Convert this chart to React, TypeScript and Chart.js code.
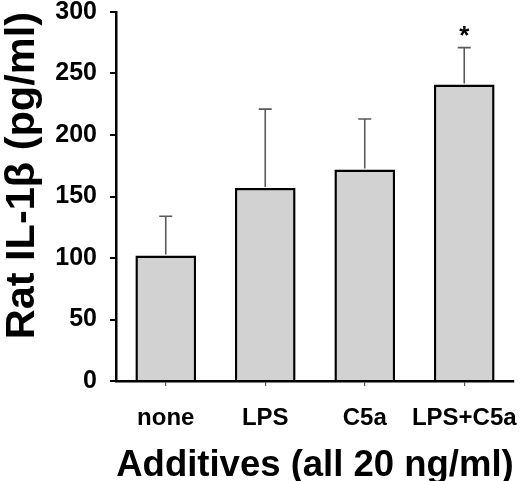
import React, { useRef, useEffect } from "react";
import Chart from "chart.js/auto";

const categories = ["none", "LPS", "C5a", "LPS+C5a"];
const means = [102, 157, 172, 241];
const errors = [32, 64, 41, 30];
const marks = ["", "", "", "*"];
const yTicks = [0, 50, 100, 150, 200, 250, 300];

const FONT = "'Liberation Sans', Arial, Helvetica, sans-serif";

// error bars (upper only) and significance marks
const errorBarPlugin = {
  id: "errorBars",
  afterDatasetsDraw(chart: any) {
    const { ctx } = chart;
    const y = chart.scales.y;
    const meta = chart.getDatasetMeta(0);
    ctx.save();
    meta.data.forEach((bar: any, i: number) => {
      const top = y.getPixelForValue(means[i] + errors[i]);
      const base = y.getPixelForValue(means[i]);
      ctx.strokeStyle = "#5a5a5a";
      ctx.lineWidth = 1.6;
      ctx.beginPath();
      ctx.moveTo(bar.x, base - 1);
      ctx.lineTo(bar.x, top);
      ctx.moveTo(bar.x - 6.5, top);
      ctx.lineTo(bar.x + 6.5, top);
      ctx.stroke();
      if (marks[i]) {
        ctx.fillStyle = "#000";
        ctx.font = `bold 26px ${FONT}`;
        ctx.textAlign = "center";
        ctx.textBaseline = "middle";
        ctx.fillText(marks[i], bar.x, top - 11);
      }
    });
    ctx.restore();
  },
};

const App: React.FC = () => {
  const chartRef = useRef<HTMLCanvasElement | null>(null);

  useEffect(() => {
    const config: any = {
      type: "bar",
      data: {
        labels: categories,
        datasets: [
          {
            data: means,
            backgroundColor: "#d2d2d2",
            borderColor: "#000",
            borderWidth: 2.5,
            barPercentage: 0.61,
            categoryPercentage: 1,
          },
        ],
      },
      options: {
        responsive: false,
        animation: false,
        layout: { padding: { left: 0, right: 6, top: 12, bottom: 0 } },
        plugins: {
          legend: { display: false },
          tooltip: { enabled: false },
        },
        scales: {
          x: {
            grid: {
              offset: false,
              drawOnChartArea: false,
              drawTicks: true,
              tickLength: 5,
              color: "#555",
              lineWidth: 1.2,
            },
            border: { display: true, color: "#000", width: 2.5 },
            ticks: {
              color: "#000",
              padding: 18,
              maxRotation: 0,
              minRotation: 0,
              autoSkip: false,
              font: { family: FONT, size: 24, weight: "bold" },
            },
            title: {
              display: true,
              text: "Additives (all 20 ng/ml)",
              color: "#000",
              padding: 0,
              font: { family: FONT, size: 36.5, weight: "bold", lineHeight: 0.85 },
            },
            afterFit: (scale: any) => {
              scale.height = 100;
              scale.paddingLeft = 0;
              scale.paddingRight = 0;
            },
          },
          y: {
            min: 0,
            max: 300,
            afterBuildTicks: (scale: any) => {
              scale.ticks = yTicks.map((v) => ({ value: v }));
            },
            grid: {
              drawOnChartArea: false,
              drawTicks: true,
              tickLength: 6,
              color: "#000",
              lineWidth: 2,
            },
            border: { display: true, color: "#000", width: 2.5 },
            ticks: {
              color: "#000",
              padding: 13,
              font: { family: FONT, size: 25, weight: "bold", lineHeight: 1 },
            },
            title: {
              display: true,
              text: "Rat IL-1β (pg/ml)",
              align: "end",
              color: "#000",
              padding: { top: 0, bottom: 0 },
              font: { family: FONT, size: 41.5, weight: "bold", lineHeight: 1.1 },
            },
            afterFit: (scale: any) => {
              scale.width = 116;
              scale.paddingTop = 0;
              scale.paddingBottom = 0;
            },
          },
        },
      },
      plugins: [errorBarPlugin],
    };

    const myChart = new Chart(chartRef.current!.getContext("2d")!, config);

    return () => {
      myChart.destroy();
    };
  }, []);

  return (
    <div style={{ position: "absolute", left: 0, top: 0, width: "520px", height: "481px", background: "#fff" }}>
      <canvas ref={chartRef} width={520} height={481}></canvas>
    </div>
  );
};

export default App;
